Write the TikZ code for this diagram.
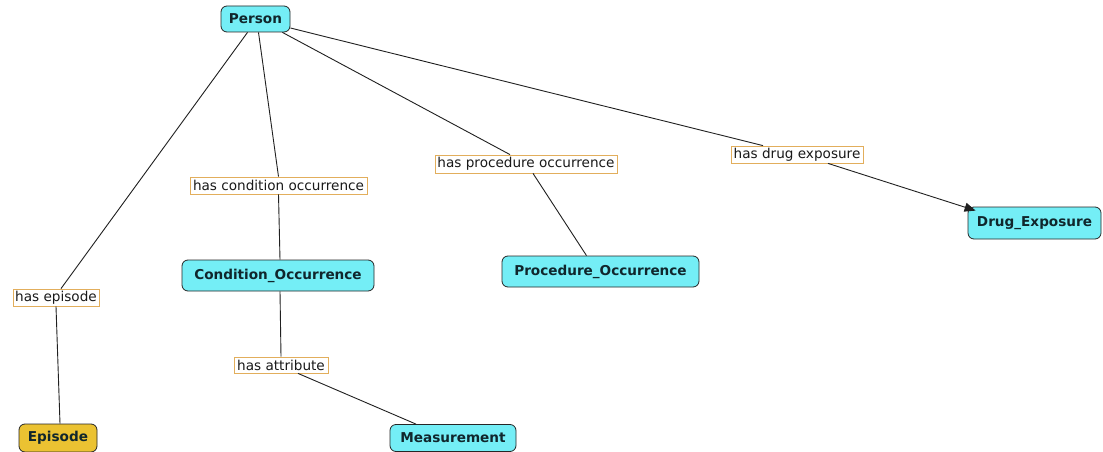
\documentclass[tikz,border=0pt]{standalone}
\usepackage{fontspec}
\setmainfont{DejaVu Sans}
\usetikzlibrary{calc,arrows.meta}
\definecolor{nodecyan}{HTML}{74EEF6}
\definecolor{epgold}{HTML}{EBC232}
\definecolor{lblborder}{HTML}{E2AE5C}
\definecolor{txtdark}{HTML}{10262C}
\definecolor{edgecol}{HTML}{202020}
\begin{document}
\begin{tikzpicture}[x=1pt,y=-1pt,
  concept/.style={draw=black!85, line width=0.8pt, rounded corners=6pt, fill=nodecyan,
    font=\fontsize{13.6}{15}\selectfont\bfseries, text=txtdark, inner sep=0pt, anchor=center},
  lbl/.style={draw=lblborder, line width=0.8pt, fill=white, font=\fontsize{13.6}{15}\selectfont,
    text=black!90, inner sep=0pt, anchor=center},
  edge/.style={draw=edgecol, line width=0.9pt}]
\useasboundingbox (0,0) rectangle (1103,452);
\fill[white] (0,0) rectangle (1103,452);
% concepts
\node[concept, minimum width=69pt, minimum height=26pt] (person) at (255.5,19) {Person};
\node[concept, fill=epgold, minimum width=78pt, minimum height=28pt] (episode) at (58,438) {Episode};
\node[concept, minimum width=192pt, minimum height=31pt] (cond) at (278,275.5) {Condition\_Occurrence};
\node[concept, minimum width=197pt, minimum height=31pt] (proc) at (600.5,271.5) {Procedure\_Occurrence};
\node[concept, minimum width=133pt, minimum height=32pt] (drug) at (1034.5,223) {Drug\_Exposure};
\node[concept, minimum width=126pt, minimum height=27pt] (meas) at (453,438) {Measurement};
% linking phrases
\node[lbl, minimum width=86pt, minimum height=17pt] (lep) at (56,297.5) {has episode};
\node[lbl, minimum width=177pt, minimum height=17pt] (lco) at (278.5,185.5) {has condition occurrence};
\node[lbl, minimum width=182pt, minimum height=18pt] (lpo) at (526,164) {has procedure occurrence};
\node[lbl, minimum width=132pt, minimum height=17pt] (lde) at (797,154.5) {has drug exposure};
\node[lbl, minimum width=94pt, minimum height=16pt] (lat) at (281,365) {has attribute};
% connectors
\draw[edge] ($(person.south)+(-8,0)$) -- ($(lep.north)+(5,0)$);
\draw[edge] (lep.south) -- ($(episode.north)+(2,0)$);
\draw[edge] ($(person.south)+(3,0)$) -- (lco.north);
\draw[edge] (lco.south) -- ($(cond.north)+(2,0)$);
\draw[edge] ($(person.south east)+(-8,0)$) -- ($(lpo.north)+(-16,0)$);
\draw[edge] ($(lpo.south)+(7,0)$) -- ($(proc.north)+(-14,0)$);
\draw[edge] ($(person.east)+(0,9)$) -- ($(lde.north)+(-34,0)$);
\draw[edge, -{Triangle[length=11pt,width=9pt]}] ($(lde.south)+(31,0)$) -- ($(drug.north west)+(8,4)$);
\draw[edge] ($(cond.south)+(2,0)$) -- (lat.north);
\draw[edge] ($(lat.south)+(17,0)$) -- ($(meas.north)+(-37,0)$);
\end{tikzpicture}
\end{document}
